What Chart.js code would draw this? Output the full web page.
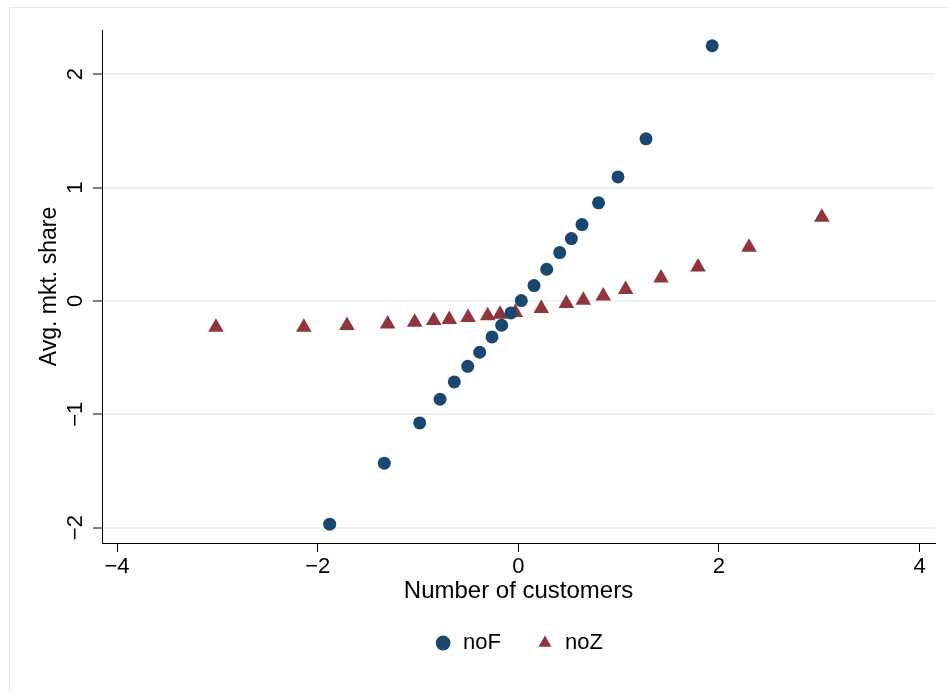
<!DOCTYPE html>
<html><head><meta charset="utf-8">
<script src="https://cdn.jsdelivr.net/npm/chart.js@4/dist/chart.umd.min.js"></script>
<style>html,body{margin:0;padding:0;background:#fff;}#wrap{width:948px;height:693px;}</style>
</head><body><div id="wrap"><canvas id="c" width="948" height="693"></canvas></div>
<script>
// ---- data ----
const noF_x = [-1.88, -1.336, -0.983, -0.78, -0.638, -0.504, -0.385, -0.262, -0.166, -0.073, 0.03, 0.157, 0.283, 0.413, 0.529, 0.635, 0.80, 0.994, 1.273, 1.933];
const noF_y = [-1.97, -1.432, -1.077, -0.868, -0.715, -0.577, -0.453, -0.318, -0.215, -0.106, 0.003, 0.135, 0.279, 0.426, 0.55, 0.673, 0.865, 1.094, 1.43, 2.251];
const noZ_x = [-3.014, -2.138, -1.708, -1.302, -1.033, -0.843, -0.688, -0.501, -0.305, -0.182, -0.03, 0.229, 0.479, 0.648, 0.847, 1.07, 1.423, 1.792, 2.30, 3.026];
const noZ_y = [-0.232, -0.232, -0.217, -0.203, -0.188, -0.173, -0.164, -0.146, -0.132, -0.117, -0.102, -0.067, -0.023, 0.006, 0.044, 0.101, 0.201, 0.298, 0.474, 0.739];
const xTicks = [-4, -2, 0, 2, 4];
const yTicks = [-2, -1, 0, 1, 2];
const seriesNames = ['noF', 'noZ'];
const xTitle = 'Number of customers';
const yTitle = 'Avg. mkt. share';

const FONT = '"Liberation Sans", Arial, Helvetica, sans-serif';
Chart.defaults.font.family = FONT;
Chart.defaults.color = '#000';

const fmt = v => (v < 0 ? '\u2212' + Math.abs(v) : String(v));
const pts = (xs, ys) => xs.map((x, i) => ({x: x, y: ys[i]}));

const frame = {
  id: 'frame',
  beforeDraw(chart) {
    const c = chart.ctx;
    c.save();
    c.fillStyle = '#fff';
    c.fillRect(0, 0, chart.width, chart.height);
    c.strokeStyle = '#e1eaea';
    c.lineWidth = 1;
    c.beginPath();
    c.moveTo(9.5, chart.height);
    c.lineTo(9.5, 7.5);
    c.lineTo(chart.width, 7.5);
    c.stroke();
    c.restore();
  }
};

const yLabels = {
  id: 'yLabels',
  afterDraw(chart) {
    const s = chart.scales.y;
    const c = chart.ctx;
    c.save();
    c.font = '22px ' + FONT;
    c.fillStyle = '#000';
    c.textAlign = 'center';
    c.textBaseline = 'alphabetic';
    s.ticks.forEach(t => {
      const py = s.getPixelForValue(t.value);
      c.save();
      c.translate(s.right - 20, py);
      c.rotate(-Math.PI / 2);
      c.fillText(fmt(t.value), 0, 0);
      c.restore();
    });
    c.restore();
  }
};

new Chart(document.getElementById('c'), {
  type: 'scatter',
  data: {
    datasets: [
      {label: seriesNames[0], data: pts(noF_x, noF_y), pointStyle: 'circle', pointRadius: 6.5,
       backgroundColor: '#1a476f', borderColor: '#1a476f', borderWidth: 0, pointBorderWidth: 0},
      {label: seriesNames[1], data: pts(noZ_x, noZ_y), pointStyle: 'triangle', pointRadius: 9,
       backgroundColor: '#90353b', borderColor: '#90353b', borderWidth: 0, pointBorderWidth: 0}
    ]
  },
  options: {
    responsive: false,
    animation: false,
    devicePixelRatio: 1,
    layout: {padding: {left: 0, right: 13, top: 30, bottom: 29}},
    plugins: {
      tooltip: {enabled: false},
      legend: {
        position: 'bottom',
        fullSize: false,
        align: 'center',
        labels: {usePointStyle: true, boxWidth: 18, boxHeight: 10.5, padding: 35,
                 font: {size: 22, family: FONT}, color: '#000'}
      }
    },
    scales: {
      x: {
        type: 'linear', position: 'bottom', min: -4.15, max: 4.154,
        afterBuildTicks: s => { s.ticks = xTicks.map(v => ({value: v})); },
        border: {display: true, color: '#000', width: 1},
        grid: {display: true, drawOnChartArea: false, drawTicks: true, tickLength: 9, tickColor: '#000', tickWidth: 1},
        ticks: {font: {size: 22, lineHeight: 1}, color: '#000', padding: 4, minRotation: 0, maxRotation: 0, autoSkip: false, callback: v => fmt(v)},
        title: {display: true, text: xTitle, font: {size: 24, lineHeight: 1}, color: '#000', padding: {top: 0, bottom: -6.5}},
        afterFit: s => { s.height = 54; }
      },
      y: {
        type: 'linear', position: 'left', min: -2.136, max: 2.39,
        afterBuildTicks: s => { s.ticks = yTicks.map(v => ({value: v})); },
        border: {display: true, color: '#000', width: 1},
        grid: {display: true, drawOnChartArea: true, color: '#eaf1f2', lineWidth: 2, drawTicks: true, tickLength: 9, tickColor: '#000', tickWidth: 1},
        ticks: {display: false},
        title: {display: true, text: yTitle, font: {size: 23, lineHeight: 1}, color: '#000', padding: {top: 38, bottom: 0}},
        afterFit: s => { s.width = 102; }
      }
    }
  },
  plugins: [frame, yLabels]
});
</script>
</body></html>
